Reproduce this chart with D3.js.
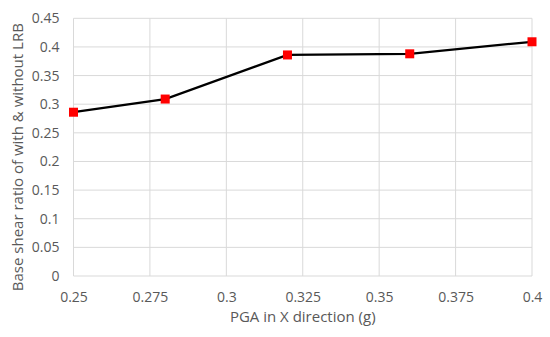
<!DOCTYPE html>
<html><head><meta charset="utf-8">
<script src="https://cdn.jsdelivr.net/npm/d3@7"></script>
<style>body{margin:0;background:#fff}svg{display:block}text{font-family:"Open Sans",sans-serif;fill:#595959}</style>
</head><body><svg id="c" width="550" height="337"></svg>
<script>
const pga = [0.25, 0.28, 0.32, 0.36, 0.40];
const ratio = [0.286, 0.309, 0.386, 0.388, 0.409];
const xTicks = [0.25, 0.275, 0.3, 0.325, 0.35, 0.375, 0.4];
const yTicks = [0, 0.05, 0.1, 0.15, 0.2, 0.25, 0.3, 0.35, 0.4, 0.45];
const xTitle = "PGA in X direction (g)";
const yTitle = "Base shear ratio of with & without LRB";

const svg = d3.select("#c");
const x = d3.scaleLinear().domain([0.25, 0.4]).range([73.5, 532]);
const y = d3.scaleLinear().domain([0, 0.45]).range([276, 18.3]);

svg.append("g").selectAll("line").data(yTicks).join("line")
  .attr("x1", x(0.25)).attr("x2", x(0.4)).attr("y1", d => y(d)).attr("y2", d => y(d))
  .attr("stroke", "#d9d9d9").attr("stroke-width", 1);
svg.append("g").selectAll("line").data(xTicks).join("line")
  .attr("y1", y(0)).attr("y2", y(0.45)).attr("x1", d => x(d)).attr("x2", d => x(d))
  .attr("stroke", "#d9d9d9").attr("stroke-width", 1);

const fmt = d => String(+d.toFixed(3));
const yAxis = d3.axisLeft(y).tickValues(yTicks).tickSize(0).tickPadding(0).tickFormat(fmt);
const gy = svg.append("g").attr("transform", `translate(${x(0.25) - 14},0)`).call(yAxis);
gy.select(".domain").remove();
gy.selectAll("text").attr("font-size", 14).attr("fill", "#595959").attr("font-family", '"Open Sans",sans-serif');

const xAxis = d3.axisBottom(x).tickValues(xTicks).tickSize(0).tickPadding(0).tickFormat(fmt);
const gx = svg.append("g").attr("transform", `translate(0,${y(0) + 16})`).call(xAxis);
gx.select(".domain").remove();
gx.selectAll("text").attr("font-size", 14).attr("fill", "#595959").attr("font-family", '"Open Sans",sans-serif');

const pts = pga.map((p, i) => [p, ratio[i]]);
svg.append("path").datum(pts)
  .attr("d", d3.line().x(d => x(d[0])).y(d => y(d[1])))
  .attr("fill", "none").attr("stroke", "#000").attr("stroke-width", 2.25);
svg.append("g").selectAll("rect").data(pts).join("rect")
  .attr("x", d => x(d[0]) - 4.5).attr("y", d => y(d[1]) - 4.5)
  .attr("width", 9).attr("height", 9).attr("fill", "#ff0000");

svg.append("text").attr("x", (x(0.25) + x(0.4)) / 2).attr("y", 322)
  .attr("text-anchor", "middle").attr("font-size", 15).text(xTitle);
svg.append("text").attr("transform", `translate(22.5,${(y(0) + y(0.45)) / 2 + 10}) rotate(-90)`)
  .attr("text-anchor", "middle").attr("font-size", 15).text(yTitle);
</script></body></html>
